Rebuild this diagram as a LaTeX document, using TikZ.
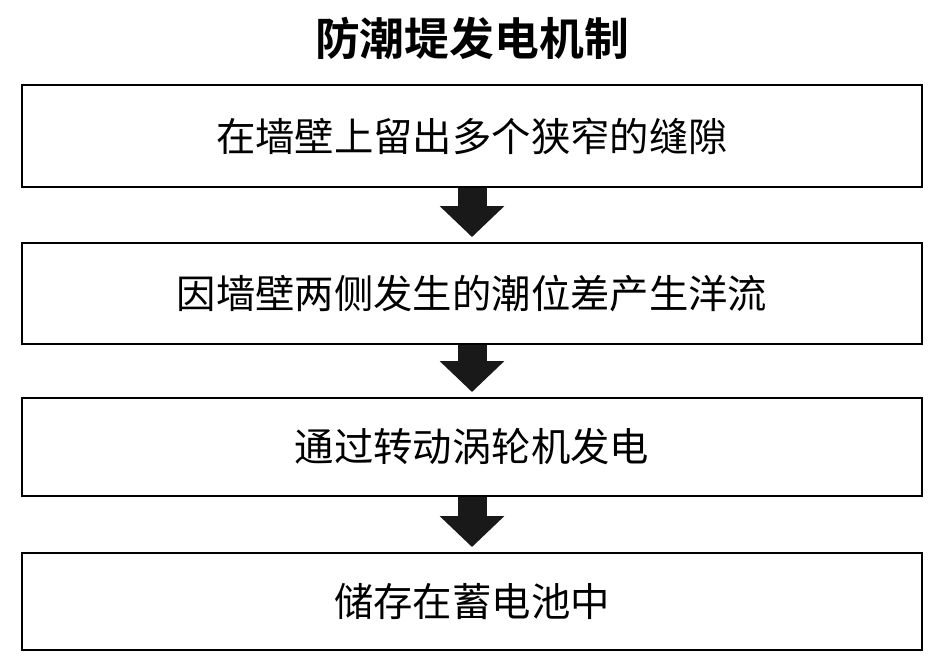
\documentclass[tikz,border=0pt]{standalone}
\usepackage{fontspec}
\newfontfamily\cjk{Noto Sans CJK SC}
\newfontfamily\cjkbold{Noto Sans CJK SC Bold}
\usetikzlibrary{arrows.meta}
\tikzset{
  stepbox/.style={draw=black, line width=0.04cm, minimum width=18cm, inner sep=0pt,
    font=\cjk\fontsize{22.4pt}{26pt}\selectfont},
  blockarrow/.style={draw=black!90, line width=0.58cm,
    -{Triangle[width=1.26cm,length=0.62cm]}, shorten >=0.1cm}
}
\begin{document}
\begin{tikzpicture}[x=0.02cm,y=-0.02cm]
\useasboundingbox (0,0) rectangle (943,667);
\node (title) at (472,38) {\cjkbold\fontsize{25.5pt}{30pt}\selectfont 防潮堤发电机制};
\node[stepbox, minimum height=2.04cm] (b1) at (472,136) {在墙壁上留出多个狭窄的缝隙};
\node[stepbox, minimum height=2.02cm] (b2) at (472,293.5) {因墙壁两侧发生的潮位差产生洋流};
\node[stepbox, minimum height=1.96cm] (b3) at (472,447) {通过转动涡轮机发电};
\node[stepbox, minimum height=1.94cm] (b4) at (472,601.5) {储存在蓄电池中};
\draw[blockarrow] (b1.south) -- (b2.north);
\draw[blockarrow] (b2.south) -- (b3.north);
\draw[blockarrow] (b3.south) -- (b4.north);
\end{tikzpicture}
\end{document}
